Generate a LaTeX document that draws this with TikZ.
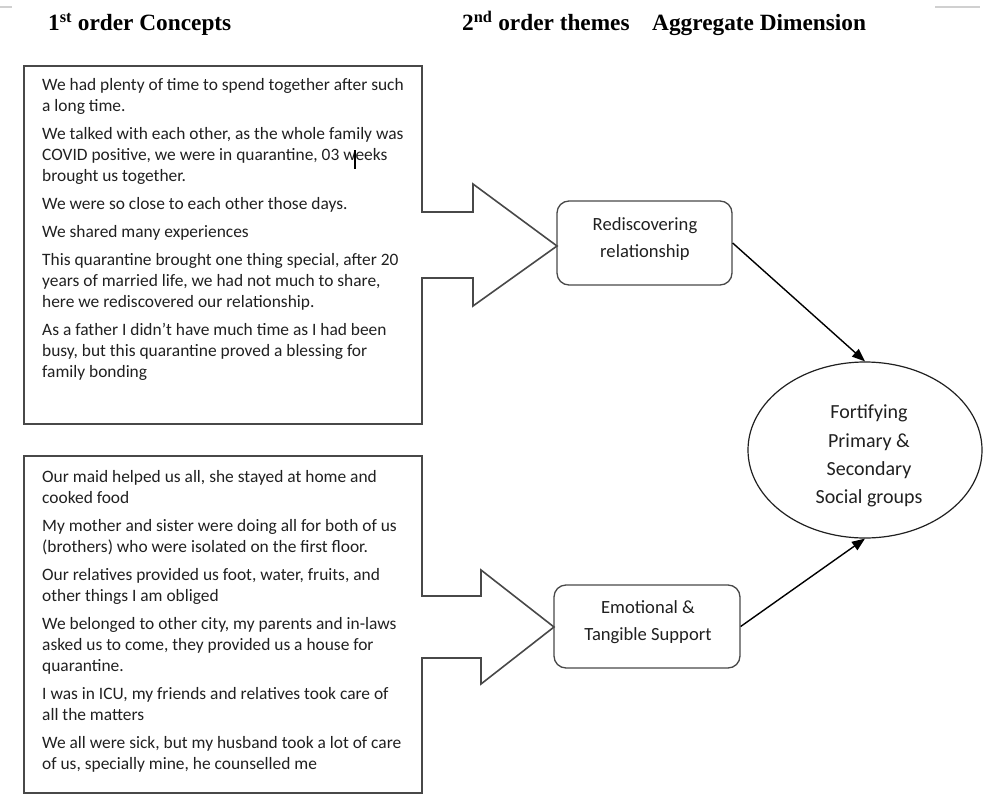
\documentclass[tikz,border=0pt]{standalone}
\usepackage{fontspec}
\setmainfont{Carlito}
\newfontfamily\headfont{Liberation Serif}
\usetikzlibrary{shapes.geometric,arrows.meta}
\definecolor{ink}{HTML}{202020}
\definecolor{frame}{HTML}{484848}
\definecolor{rule}{HTML}{D0D0D0}
\begin{document}
\begin{tikzpicture}[x=1bp,y=-1bp,
  heading/.style={anchor=base west, inner sep=0pt, text=black,
    font=\headfont\bfseries\fontsize{23.3bp}{26bp}\selectfont},
  quote/.style={anchor=north west, align=left, inner sep=0pt, text=ink,
    font=\fontsize{17.4bp}{21bp}\selectfont},
  callout/.style={draw=frame, line width=1.6bp, line join=miter},
  theme/.style={draw=frame, line width=1.3bp, rounded corners=12bp, inner sep=0pt},
  themetext/.style={align=center, inner sep=0pt, text=ink,
    font=\fontsize{18.6bp}{27bp}\selectfont},
  dimension/.style={ellipse, draw=ink, line width=1.2bp, inner sep=0pt,
    minimum width=234bp, minimum height=176bp},
  dimtext/.style={align=center, inner sep=0pt, text=ink,
    font=\fontsize{20bp}{28.3bp}\selectfont},
  link/.style={-{Triangle[length=13bp,width=10bp]}, line width=1.4bp, draw=black}
]
\useasboundingbox (0,0) rectangle (983,795);

% faint rules along the top edge
\draw[rule, line width=1.5bp] (0,7) -- (12,7);
\draw[rule, line width=1.5bp] (935,7) -- (980,7);

% column headings
\node[heading] (h1) at (48,31) {1\textsuperscript{st} order Concepts};
\node[heading] (h2) at (462,31) {2\textsuperscript{nd} order themes};
\node[heading] (h3) at (652,31) {Aggregate Dimension};

% quote boxes with their block-arrow outlets
\draw[callout] (24,66) -- (422,66) -- (422,212) -- (473,212) -- (473,184)
  -- (557,246) -- (473,306) -- (473,278) -- (422,278) -- (422,424) -- (24,424) -- cycle;
\draw[callout] (24,456) -- (422,456) -- (422,596) -- (481,596) -- (481,570)
  -- (554,627) -- (481,684) -- (481,658) -- (422,658) -- (422,793) -- (24,793) -- cycle;

\node[quote] (q1) at (42,78) {We had plenty of time to spend together after such\\
a long time.\\[7bp]
We talked with each other, as the whole family was\\
COVID positive, we were in quarantine, 03 weeks\\
brought us together.\\[7bp]
We were so close to each other those days.\\[7bp]
We shared many experiences\\[7bp]
This quarantine brought one thing special, after 20\\
years of married life, we had not much to share,\\
here we rediscovered our relationship.\\[7bp]
As a father I didn’t have much time as I had been\\
busy, but this quarantine proved a blessing for\\
family bonding};

% text cursor left in the second quote
\draw[black, line width=1.5bp] (355,150) -- (355,169);

\node[quote] (q2) at (42,470) {Our maid helped us all, she stayed at home and\\
cooked food\\[7bp]
My mother and sister were doing all for both of us\\
(brothers) who were isolated on the first floor.\\[7bp]
Our relatives provided us foot, water, fruits, and\\
other things I am obliged\\[7bp]
We belonged to other city, my parents and in-laws\\
asked us to come, they provided us a house for\\
quarantine.\\[7bp]
I was in ICU, my friends and relatives took care of\\
all the matters\\[7bp]
We all were sick, but my husband took a lot of care\\
of us, specially mine, he counselled me};

% second order themes
\node[theme, minimum width=175bp, minimum height=84bp] (t1) at (644.5,243) {};
\node[themetext] (t1text) at (645,239) {Rediscovering\\relationship};
\node[theme, minimum width=186bp, minimum height=83bp] (t2) at (647,626.5) {};
\node[themetext] (t2text) at (648,622) {Emotional \&\\Tangible Support};

% aggregate dimension
\node[dimension] (agg) at (865,450) {};
\node[dimtext] (aggtext) at (869,456) {Fortifying\\Primary \&\\Secondary\\Social groups};

\draw[link] (t1.east) -- (agg.north);
\draw[link] (t2.east) -- (agg.south);
\end{tikzpicture}
\end{document}
